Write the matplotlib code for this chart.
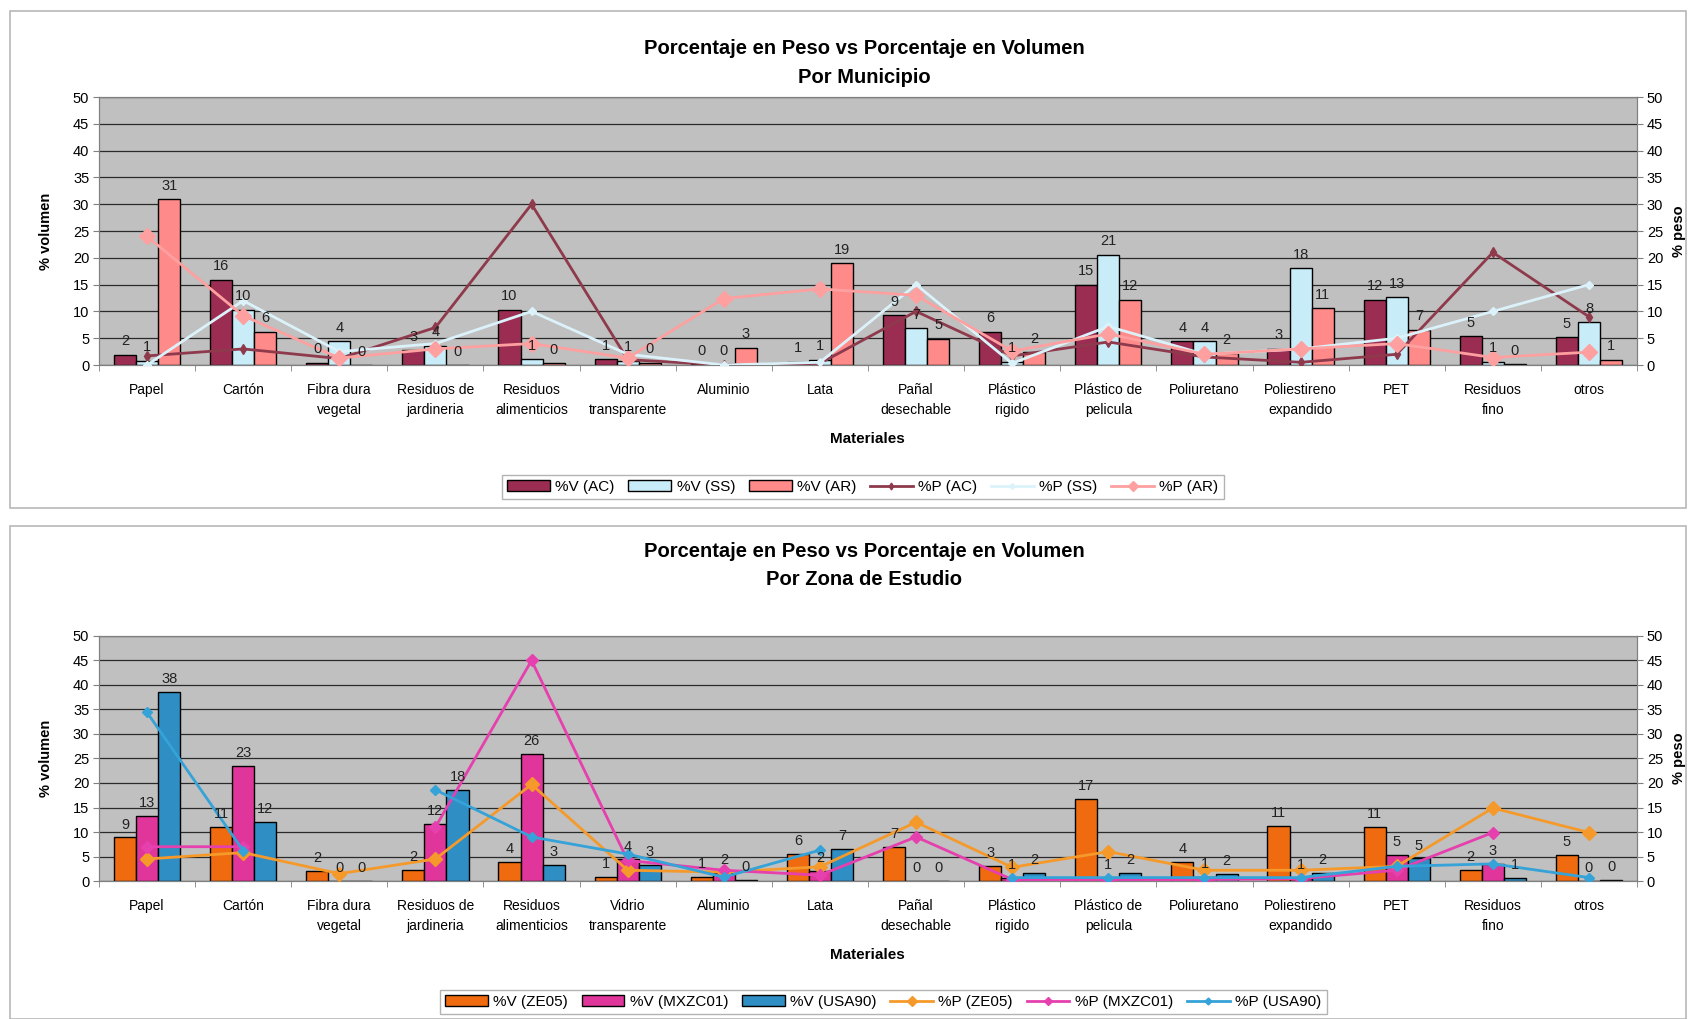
import numpy as np
import matplotlib
matplotlib.use("Agg")
import matplotlib.pyplot as plt
from matplotlib.patches import Patch, Rectangle
from matplotlib.lines import Line2D

plt.rcParams['font.family'] = ['Liberation Sans', 'DejaVu Sans']

nan = np.nan

# categorias (eje x de ambas graficas)
materiales = ['Papel', 'Cartón', 'Fibra dura\nvegetal', 'Residuos de\njardineria',
              'Residuos\nalimenticios', 'Vidrio\ntransparente', 'Aluminio', 'Lata',
              'Pañal\ndesechable', 'Plástico\nrigido', 'Plástico de\npelicula',
              'Poliuretano', 'Poliestireno\nexpandido', 'PET', 'Residuos\nfino', 'otros']

# --- Por Municipio: % volumen (barras) ---
v_ac = [1.9, 15.9, 0.4, 2.8, 10.3, 1.1, 0.2, 0.6, 9.3, 6.2, 15.0, 4.4, 3.0, 12.2, 5.4, 5.2]
v_ss = [0.8, 10.3, 4.4, 3.6, 1.1, 0.8, 0.2, 1.0, 6.9, 0.6, 20.6, 4.4, 18.1, 12.6, 0.6, 8.0]
v_ar = [30.9, 6.2, 0.0, 0.0, 0.3, 0.4, 3.2, 19.0, 4.9, 2.4, 12.2, 2.2, 10.6, 6.6, 0.2, 1.0]
# --- Por Municipio: % peso (lineas) ---
p_ac = [1.7, 3.0, 1.2, 7.0, 30.0, 1.0, 0.0, 0.3, 10.0, 1.7, 4.3, 1.5, 0.5, 2.0, 21.0, 9.0]
p_ss = [0.0, 12.0, 2.5, 4.0, 10.0, 2.0, 0.0, 0.5, 15.0, 0.3, 7.2, 2.0, 3.0, 5.0, 10.0, 15.0]
p_ar = [24.0, 9.2, 1.3, 3.0, 4.0, 1.3, 12.4, 14.2, 13.0, 2.6, 5.8, 2.0, 3.0, 4.0, 1.4, 2.4]

# --- Por Zona de Estudio: % volumen (barras) ---
v_ze05 = [8.9, 11.0, 2.1, 2.2, 3.9, 0.8, 0.8, 5.6, 7.0, 3.0, 16.8, 3.9, 11.3, 11.0, 2.3, 5.3]
v_mxzc01 = [13.2, 23.4, 0.0, 11.6, 26.0, 4.4, 1.6, 2.0, 0.0, 0.6, 0.6, 0.8, 0.6, 5.3, 3.4, 0.0]
v_usa90 = [38.5, 12.1, 0.0, 18.5, 3.2, 3.2, 0.3, 6.6, 0.0, 1.6, 1.6, 1.5, 1.6, 4.6, 0.7, 0.2]
# --- Por Zona de Estudio: % peso (lineas) ---
p_ze05 = [4.5, 5.8, 1.5, 4.5, 19.7, 2.2, 1.8, 2.9, 12.0, 2.8, 6.0, 2.2, 2.2, 3.0, 14.9, 9.9]
p_mxzc01 = [7.0, 7.0, nan, 11.0, 45.0, 4.2, 2.2, 1.2, 9.0, 0.3, 0.3, 0.3, 0.5, 2.2, 9.9, nan]
p_usa90 = [34.4, 6.2, nan, 18.6, 9.0, 5.5, 0.8, 6.3, nan, 0.7, 0.7, 0.7, 0.7, 3.0, 3.5, 0.7]

fig = plt.figure(figsize=(16.95, 10.19), dpi=100)

# marcos de cada grafica
for y0, h in [(0.5015, 0.4877), (0.0, 0.4838)]:
    fig.add_artist(Rectangle((0.0059, y0), 0.9888, h, transform=fig.transFigure,
                             fill=False, edgecolor='#b8b8b8', lw=1.2))


def panel(rect, bars, lines, titles, title_y, mat_y, leg_xy):
    ax = fig.add_axes(rect)
    x = np.arange(len(materiales))
    w = 0.23
    ax.set_facecolor('#c0c0c0')
    handles = []
    for i, (vals, col, lab) in enumerate(bars):
        ax.bar(x + (i - 1) * w, vals, w, color=col, edgecolor='black', lw=1.0, zorder=2)
        handles.append(Patch(facecolor=col, edgecolor='black', label=lab))
    ax.set_ylim(0, 50)
    ax.set_xlim(-0.5, len(materiales) - 0.5)
    ax.set_yticks(range(0, 51, 5))
    ax.yaxis.grid(True, color='#2a2a2a', lw=0.9)
    ax.set_axisbelow(True)
    ax.set_xticks(x)
    ax.set_xticklabels(materiales, fontsize=10, linespacing=1.55)
    ax.set_xticks(np.arange(len(materiales) + 1) - 0.5, minor=True)
    ax.tick_params(axis='x', which='major', length=0, pad=13)
    ax.tick_params(axis='x', which='minor', length=4, color='#808080')
    ax.tick_params(axis='y', labelsize=10.5, length=4, color='#808080', pad=3)
    for s in ax.spines.values():
        s.set_color('#808080')

    ax2 = ax.twinx()
    ax2.set_ylim(0, 50)
    ax2.set_yticks(range(0, 51, 5))
    ax2.tick_params(axis='y', labelsize=10.5, length=4, color='#808080', pad=3)
    for s in ax2.spines.values():
        s.set_color('#808080')
    for vals, col, mk, ms, lab in lines:
        ax2.plot(x, vals, color=col, lw=2.0, marker=mk, ms=ms, zorder=3)
        handles.append(Line2D([], [], color=col, lw=2.0, marker=mk, ms=ms * 0.7, label=lab))

    # etiquetas de valor sobre cada barra
    for i, (vals, col, lab) in enumerate(bars):
        for xi, v in zip(x, vals):
            ax2.text(xi + (i - 1) * w, v + 1.2, f'{v:.0f}', ha='center', va='bottom',
                     fontsize=10.5, color='#222222', zorder=5)

    fig.text(0.027, rect[1] + rect[3] / 2, '% volumen', rotation=90, ha='center',
             va='center', fontsize=10.5, fontweight='bold')
    fig.text(0.9906, rect[1] + rect[3] / 2, '% peso', rotation=90, ha='center',
             va='center', fontsize=10.5, fontweight='bold')
    fig.text(0.510, title_y[0], titles[0], ha='center', va='center', fontsize=14.5, fontweight='bold')
    fig.text(0.510, title_y[1], titles[1], ha='center', va='center', fontsize=14.5, fontweight='bold')
    fig.text(0.512, mat_y, 'Materiales', ha='center', va='center', fontsize=11, fontweight='bold')
    fig.legend(handles=handles, loc='center', bbox_to_anchor=leg_xy, ncol=6, fontsize=11,
               frameon=True, fancybox=False, edgecolor='#a0a0a0', handlelength=2.8,
               handletextpad=0.35, columnspacing=0.9, borderpad=0.35)
    return ax


panel([0.0584, 0.6418, 0.9074, 0.2630],
      [(v_ac, '#9b2d52', '%V (AC)'), (v_ss, '#c8ecf8', '%V (SS)'), (v_ar, '#ff8a8a', '%V (AR)')],
      [(p_ac, '#8e3a4c', 'd', 5, '%P (AC)'), (p_ss, '#dcf2fa', 'D', 4, '%P (SS)'),
       (p_ar, '#ffa0a0', 'D', 8, '%P (AR)')],
      ('Porcentaje en Peso vs Porcentaje en Volumen', 'Por Municipio'),
      (0.952, 0.924), 0.5692, (0.509, 0.522))

panel([0.0584, 0.1354, 0.9074, 0.2405],
      [(v_ze05, '#f06a10', '%V (ZE05)'), (v_mxzc01, '#e0359a', '%V (MXZC01)'),
       (v_usa90, '#2f8fc4', '%V (USA90)')],
      [(p_ze05, '#f59a2a', 'D', 7, '%P (ZE05)'), (p_mxzc01, '#e63fae', 'D', 6, '%P (MXZC01)'),
       (p_usa90, '#35a2d8', 'D', 5, '%P (USA90)')],
      ('Porcentaje en Peso vs Porcentaje en Volumen', 'Por Zona de Estudio'),
      (0.4590, 0.4315), 0.0628, (0.521, 0.0167))

fig.savefig('out.png', dpi=100)
